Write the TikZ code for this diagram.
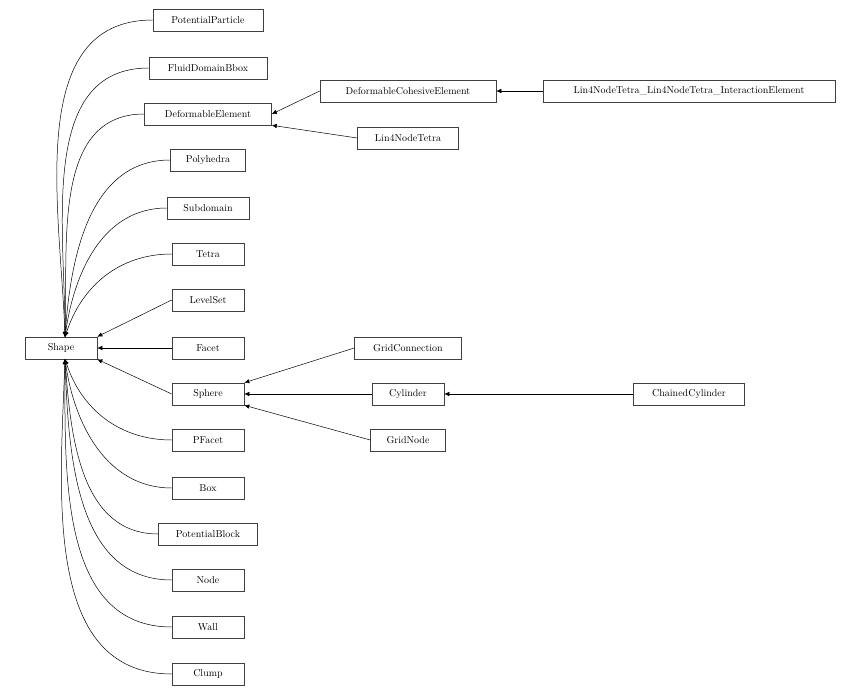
\documentclass[tikz,border=0pt]{standalone}
\usepackage{tikz}
\usetikzlibrary{arrows.meta}
\tikzset{
  cls/.style={draw=black!75, line width=0.6pt, rectangle, minimum height=22pt, inner xsep=2pt, font=\fontsize{10}{12}\selectfont},
  inh/.style={-{Latex[length=5pt,width=4.5pt]}, line width=0.5pt},
}
\begin{document}
\begin{tikzpicture}[x=1pt,y=-1pt]
\useasboundingbox (0,0) rectangle (860,696);
%% base
\node[cls, minimum width=72pt] (shape) at (61,348) {Shape};
%% first level
\node[cls, minimum width=110pt] (pp) at (208,20) {PotentialParticle};
\node[cls, minimum width=118pt] (fdb) at (208,68) {FluidDomainBbox};
\node[cls, minimum width=127pt] (de) at (208,114) {DeformableElement};
\node[cls, minimum width=75pt] (poly) at (208,160) {Polyhedra};
\node[cls, minimum width=82pt] (sub) at (208,208) {Subdomain};
\node[cls, minimum width=72pt] (tetra) at (208,254) {Tetra};
\node[cls, minimum width=72pt] (ls) at (208,300) {LevelSet};
\node[cls, minimum width=72pt] (facet) at (208,348) {Facet};
\node[cls, minimum width=72pt] (sphere) at (208,394) {Sphere};
\node[cls, minimum width=72pt] (pfacet) at (208,440) {PFacet};
\node[cls, minimum width=72pt] (box) at (208,488) {Box};
\node[cls, minimum width=99pt] (pb) at (208,534) {PotentialBlock};
\node[cls, minimum width=72pt] (node) at (208,580) {Node};
\node[cls, minimum width=72pt] (wall) at (208,627) {Wall};
\node[cls, minimum width=72pt] (clump) at (208,674) {Clump};
%% second level
\node[cls, minimum width=176pt] (dce) at (408,91) {DeformableCohesiveElement};
\node[cls, minimum width=101pt] (l4t) at (408,138) {Lin4NodeTetra};
\node[cls, minimum width=107pt] (gc) at (408,348) {GridConnection};
\node[cls, minimum width=72pt] (cyl) at (408,394) {Cylinder};
\node[cls, minimum width=75pt] (gn) at (408,440) {GridNode};
%% third level
\node[cls, minimum width=292pt] (l4ie) at (689,91) {Lin4NodeTetra\_Lin4NodeTetra\_InteractionElement};
\node[cls, minimum width=111pt] (cc) at (689,394) {ChainedCylinder};
%% edges to Shape
\coordinate (top) at (65,337);
\coordinate (bot) at (65,359);
\foreach \n/\a in {pp/92,fdb/90,de/88,poly/86,sub/82,tetra/72}
  \draw[inh] (\n.west) to[out=180,in=\a] (top);
\foreach \n/\a in {pfacet/-72,box/-82,pb/-86,node/-88,wall/-90,clump/-92}
  \draw[inh] (\n.west) to[out=180,in=\a] (bot);
\draw[inh] (ls.west) -- (shape.north east);
\draw[inh] (facet.west) -- (shape.east);
\draw[inh] (sphere.west) -- (shape.south east);
%% other edges
\draw[inh] (dce.west) -- (de.east);
\draw[inh] (l4t.west) -- (de.south east);
\draw[inh] (l4ie.west) -- (dce.east);
\draw[inh] (gc.west) -- (sphere.north east);
\draw[inh] (cyl.west) -- (sphere.east);
\draw[inh] (gn.west) -- (sphere.south east);
\draw[inh] (cc.west) -- (cyl.east);
\end{tikzpicture}
\end{document}
